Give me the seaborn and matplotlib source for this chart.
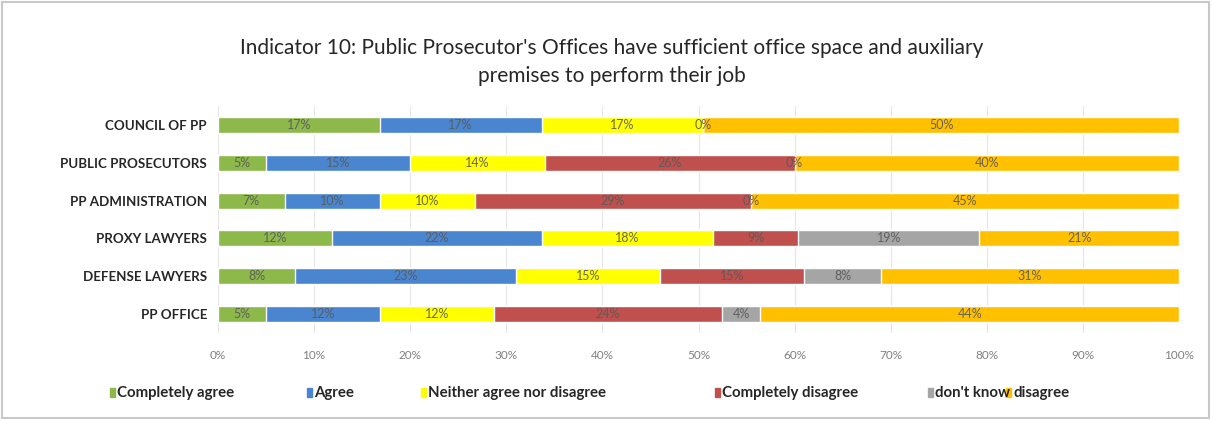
import matplotlib
matplotlib.use("Agg")
import matplotlib.pyplot as plt
import matplotlib.patches as mpatches
import numpy as np
import pandas as pd
import seaborn as sns

# Survey groups (top to bottom)
groups = ["COUNCIL OF PP", "PUBLIC PROSECUTORS", "PP ADMINISTRATION",
          "PROXY LAWYERS", "DEFENSE LAWYERS", "PP OFFICE"]

# Answer shares in percent per group (None = no answer in that category)
completely_agree = [17, 5, 7, 12, 8, 5]
agree = [17, 15, 10, 22, 23, 12]
neither = [17, 14, 10, 18, 15, 12]
completely_disagree = [0, 26, 29, 9, 15, 24]
dont_know = [None, 0, 0, 19, 8, 4]
disagree = [50, 40, 45, 21, 31, 44]

series_names = ["Completely agree", "Agree", "Neither agree nor disagree",
                "Completely disagree", "don't know", "disagree"]
series_values = [completely_agree, agree, neither, completely_disagree,
                 dont_know, disagree]
colors = ["#8DB84A", "#4A86D0", "#FFFF00", "#C0504D", "#A5A5A5", "#FFC000"]

xtick_vals = np.arange(0, 101, 10)
xtick_labels = [f"{v}%" for v in xtick_vals]

FONT = ["Lato", "DejaVu Sans"]

sns.set_theme(style="white")
plt.rcParams["font.family"] = FONT

vals = np.array([[np.nan if v is None else v for v in s] for s in series_values],
                dtype=float)
filled = np.nan_to_num(vals)
totals = filled.sum(axis=0)
shares = filled / totals * 100.0          # 100% stacked
cum = np.cumsum(shares, axis=0)

fig = plt.figure(figsize=(12.12, 4.21), dpi=100)
ax = fig.add_axes([218 / 1212, 1 - 333 / 421, (1179 - 218) / 1212, 227 / 421])

# Draw stacked segments back to front using cumulative totals
for i in range(len(series_names) - 1, -1, -1):
    df = pd.DataFrame({"group": groups, "value": cum[i]})
    sns.barplot(data=df, x="value", y="group", orient="h", color=colors[i],
                saturation=1, width=0.42, ax=ax, order=groups)

# Segment labels
for i in range(len(series_names)):
    for j, g in enumerate(groups):
        v = vals[i, j]
        if np.isnan(v):
            continue
        start = cum[i, j] - shares[i, j]
        cx = start + shares[i, j] / 2
        ax.text(cx, j, f"{int(v)}%", ha="center", va="center",
                fontsize=9, color="#595959", alpha=0.9)

ax.set_xlim(0, 100)
ax.set_ylim(len(groups) - 0.5, -0.5)
ax.set_xticks(xtick_vals)
ax.set_xticklabels(xtick_labels, fontsize=8.5, color="#808080")
ax.tick_params(axis="x", length=0, pad=12)
ax.tick_params(axis="y", length=0, pad=8)
for lbl in ax.get_yticklabels():
    lbl.set_fontsize(9.6)
    lbl.set_fontweight("bold")
    lbl.set_color("#262626")
ax.set_xlabel("")
ax.set_ylabel("")
ax.grid(axis="x", color="#E6E6E6", linewidth=0.8)
ax.set_axisbelow(True)
for sp in ax.spines.values():
    sp.set_visible(False)

# Title
fig.text(0.505, 1 - 48 / 421,
         "Indicator 10: Public Prosecutor's Offices have sufficient office space and auxiliary",
         ha="center", va="center", fontsize=15, color="#262626")
fig.text(0.505, 1 - 76 / 421, "premises to perform their job",
         ha="center", va="center", fontsize=15, color="#262626")

# Legend entries
legend_x = [110, 307, 421, 715, 928, 1006]
ly = 1 - 393 / 421
for x, name, c in zip(legend_x, series_names, colors):
    fig.patches.append(mpatches.Rectangle((x / 1212, ly - 4 / 421), 5 / 1212, 9 / 421,
                                          transform=fig.transFigure, color=c))
    fig.text((x + 7) / 1212, ly, name, ha="left", va="center", fontsize=10.8,
             fontweight="bold", color="#262626")

# Chart frame
fig.patches.append(mpatches.Rectangle((2 / 1212, 3 / 421), 1207 / 1212, 416 / 421,
                                      transform=fig.transFigure, fill=False,
                                      edgecolor="#C8C8C8", linewidth=1.5))

fig.savefig("out.png", dpi=100)
